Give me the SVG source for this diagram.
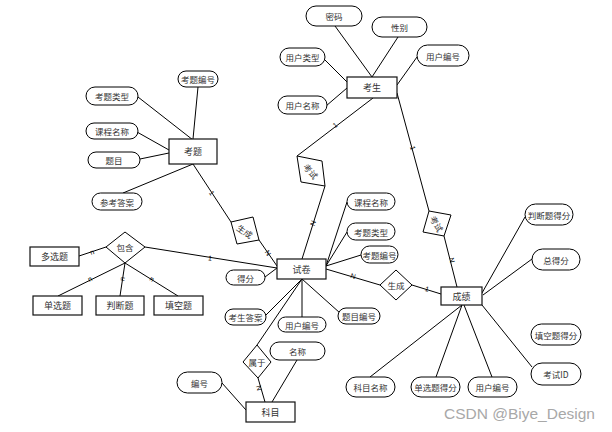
<svg xmlns="http://www.w3.org/2000/svg" width="612" height="432" viewBox="0 0 612 432">
<style>
.ent rect{fill:#fff;stroke:#111;stroke-width:1.2}
.att rect{fill:#fff;stroke:#000;stroke-width:1}
.rel polygon{fill:#fff;stroke:#000;stroke-width:1}
.t{font-family:"Noto Sans CJK SC","Liberation Sans",sans-serif;font-size:8.5px;fill:#333;text-anchor:middle;dominant-baseline:central}
.te{font-size:9px}
#connectors line{stroke:#000;stroke-width:1}
.lb{font-family:"Liberation Sans",sans-serif;font-size:7px;fill:#000;text-anchor:middle;dominant-baseline:central}
.wm{font-family:"Liberation Sans",sans-serif;font-size:15.5px;fill:#a8a8a8}
</style>
<rect width="612" height="432" fill="#fff"/>
<g id="connectors">
<line x1="335" y1="26" x2="372" y2="77"/>
<line x1="398" y1="37" x2="372" y2="77"/>
<line x1="323" y1="58" x2="347" y2="82"/>
<line x1="326" y1="106" x2="347" y2="88"/>
<line x1="417" y1="57" x2="397" y2="85"/>
<line x1="373" y1="98" x2="297" y2="156"/>
<line x1="325" y1="186" x2="302" y2="259"/>
<line x1="397" y1="93" x2="429" y2="211"/>
<line x1="444" y1="236" x2="457" y2="287"/>
<line x1="198" y1="87" x2="193" y2="139"/>
<line x1="138" y1="97" x2="193" y2="140"/>
<line x1="137" y1="132" x2="169" y2="150"/>
<line x1="140" y1="159" x2="169" y2="153"/>
<line x1="123" y1="193" x2="193" y2="164"/>
<line x1="193" y1="164" x2="231" y2="222"/>
<line x1="259" y1="240" x2="277" y2="266"/>
<line x1="145" y1="247" x2="277" y2="268"/>
<line x1="79" y1="256" x2="106" y2="247"/>
<line x1="125" y1="263" x2="58" y2="296"/>
<line x1="125" y1="263" x2="120" y2="296"/>
<line x1="125" y1="263" x2="178" y2="296"/>
<line x1="326" y1="266" x2="347" y2="202"/>
<line x1="326" y1="266" x2="347" y2="232"/>
<line x1="326" y1="266" x2="361" y2="255"/>
<line x1="326" y1="269" x2="380" y2="285"/>
<line x1="412" y1="285" x2="441" y2="294"/>
<line x1="265" y1="277" x2="277" y2="268"/>
<line x1="302" y1="279" x2="266" y2="315"/>
<line x1="302" y1="279" x2="302" y2="317"/>
<line x1="302" y1="279" x2="340" y2="313"/>
<line x1="302" y1="279" x2="257" y2="345"/>
<line x1="258" y1="378" x2="265" y2="402"/>
<line x1="297" y1="360" x2="272" y2="402"/>
<line x1="222" y1="383" x2="246" y2="410"/>
<line x1="482" y1="293" x2="525" y2="217"/>
<line x1="483" y1="295" x2="532" y2="259"/>
<line x1="482" y1="305" x2="532" y2="367"/>
<line x1="462" y1="305" x2="370" y2="377"/>
<line x1="462" y1="305" x2="436" y2="377"/>
<line x1="464" y1="305" x2="492" y2="377"/>
<text class="lb" transform="translate(335,125) rotate(-37)">1</text>
<text class="lb" transform="translate(313,223) rotate(-72)">N</text>
<text class="lb" transform="translate(413,148) rotate(75)">1</text>
<text class="lb" transform="translate(452,260) rotate(76)">N</text>
<text class="lb" transform="translate(212,193) rotate(57)">1</text>
<text class="lb" transform="translate(268,253) rotate(55)">N</text>
<text class="lb" transform="translate(210,258) rotate(9)">1</text>
<text class="lb" transform="translate(92,252) rotate(-18)">n</text>
<text class="lb" transform="translate(90,279) rotate(-26)">n</text>
<text class="lb" transform="translate(122,279) rotate(-81)">n</text>
<text class="lb" transform="translate(152,279) rotate(32)">n</text>
<text class="lb" transform="translate(353,276) rotate(16)">N</text>
<text class="lb" transform="translate(427,289) rotate(17)">1</text>
<text class="lb" transform="translate(259,388) rotate(74)">N</text>
</g>
<g id="e-kaosheng" class="ent"><rect x="347" y="77" width="50" height="21"/><text class="t te" x="372" y="87.5">考生</text></g>
<g id="e-kaoti" class="ent"><rect x="169" y="139" width="48" height="25"/><text class="t te" x="193" y="151.5">考题</text></g>
<g id="e-shijuan" class="ent"><rect x="277" y="259" width="49" height="20"/><text class="t te" x="301.5" y="269">试卷</text></g>
<g id="e-chengji" class="ent"><rect x="441" y="287" width="41" height="18"/><text class="t te" x="461.5" y="296">成绩</text></g>
<g id="e-kemu" class="ent"><rect x="246" y="402" width="49" height="20"/><text class="t te" x="270.5" y="412">科目</text></g>
<g id="e-duoxuan" class="ent"><rect x="30" y="247" width="49" height="19"/><text class="t te" x="54.5" y="256.5">多选题</text></g>
<g id="e-danxuan" class="ent"><rect x="33" y="296" width="49" height="19"/><text class="t te" x="57.5" y="305.5">单选题</text></g>
<g id="e-panduan" class="ent"><rect x="96" y="296" width="48" height="19"/><text class="t te" x="120" y="305.5">判断题</text></g>
<g id="e-tiankong" class="ent"><rect x="154" y="296" width="49" height="19"/><text class="t te" x="178.5" y="305.5">填空题</text></g>
<g id="a-mima" class="att"><rect x="306" y="6" width="56" height="20" rx="10"/><text class="t" x="334" y="16">密码</text></g>
<g id="a-xingbie" class="att"><rect x="372" y="17" width="55" height="20" rx="10"/><text class="t" x="399.5" y="27">性别</text></g>
<g id="a-yonghuleixing" class="att"><rect x="280" y="48" width="45" height="18" rx="9"/><text class="t" x="302.5" y="57">用户类型</text></g>
<g id="a-yonghumingcheng" class="att"><rect x="278" y="96" width="49" height="18" rx="9"/><text class="t" x="302.5" y="105">用户名称</text></g>
<g id="a-yonghubianhao1" class="att"><rect x="417" y="45" width="52" height="21" rx="10.5"/><text class="t" x="443" y="55.5">用户编号</text></g>
<g id="a-kaotibianhao1" class="att"><rect x="178" y="71" width="40" height="16" rx="8"/><text class="t" x="198" y="79">考题编号</text></g>
<g id="a-kaotileixing1" class="att"><rect x="86" y="87" width="52" height="18" rx="9"/><text class="t" x="112" y="96">考题类型</text></g>
<g id="a-kechengmingcheng1" class="att"><rect x="86" y="123" width="52" height="16" rx="8"/><text class="t" x="112" y="131">课程名称</text></g>
<g id="a-timu" class="att"><rect x="88" y="152" width="52" height="16" rx="8"/><text class="t" x="114" y="160">题目</text></g>
<g id="a-cankaodaan" class="att"><rect x="92" y="193" width="50" height="17" rx="8.5"/><text class="t" x="117" y="201.5">参考答案</text></g>
<g id="a-kechengmingcheng2" class="att"><rect x="347" y="193" width="48" height="17" rx="8.5"/><text class="t" x="371" y="201.5">课程名称</text></g>
<g id="a-kaotileixing2" class="att"><rect x="347" y="223" width="48" height="17" rx="8.5"/><text class="t" x="371" y="231.5">考题类型</text></g>
<g id="a-kaotibianhao2" class="att"><rect x="361" y="246" width="37" height="17" rx="8.5"/><text class="t" x="379.5" y="254.5">考题编号</text></g>
<g id="a-defen" class="att"><rect x="226" y="270" width="39" height="15" rx="7.5"/><text class="t" x="245.5" y="277.5">得分</text></g>
<g id="a-kaoshengdaan" class="att"><rect x="225" y="309" width="41" height="16" rx="8"/><text class="t" x="245.5" y="317">考生答案</text></g>
<g id="a-yonghubianhao2" class="att"><rect x="278" y="317" width="48" height="15" rx="7.5"/><text class="t" x="302" y="324.5">用户编号</text></g>
<g id="a-timubianhao" class="att"><rect x="338" y="308" width="42" height="16" rx="8"/><text class="t" x="359" y="316">题目编号</text></g>
<g id="a-mingcheng" class="att"><rect x="270" y="342" width="55" height="18" rx="9"/><text class="t" x="297.5" y="351">名称</text></g>
<g id="a-bianhao" class="att"><rect x="177" y="372" width="45" height="21" rx="10.5"/><text class="t" x="199.5" y="382.5">编号</text></g>
<g id="a-panduandefen" class="att"><rect x="525" y="204" width="48" height="21" rx="10.5"/><text class="t" x="549" y="214.5">判断题得分</text></g>
<g id="a-zongdefen" class="att"><rect x="532" y="249" width="48" height="21" rx="10.5"/><text class="t" x="556" y="259.5">总得分</text></g>
<g id="a-tiankongdefen" class="att"><rect x="531" y="324" width="50" height="21" rx="10.5"/><text class="t" x="556" y="334.5">填空题得分</text></g>
<g id="a-kaoshiid" class="att"><rect x="531" y="363" width="50" height="22" rx="11"/><text class="t" x="556" y="374">考试ID</text></g>
<g id="a-kemumingcheng" class="att"><rect x="346" y="377" width="49" height="20" rx="10"/><text class="t" x="370.5" y="387">科目名称</text></g>
<g id="a-danxuandefen" class="att"><rect x="411" y="377" width="49" height="20" rx="10"/><text class="t" x="435.5" y="387">单选题得分</text></g>
<g id="a-yonghubianhao3" class="att"><rect x="468" y="377" width="49" height="20" rx="10"/><text class="t" x="492.5" y="387">用户编号</text></g>
<g id="r-baohan" class="rel"><polygon points="125,232 145,247 125,263 106,247"/><text class="t" x="125" y="247">包含</text></g>
<g id="r-shengcheng2" class="rel"><polygon points="396,270 412,285 396,300 380,285"/><text class="t" x="396" y="285">生成</text></g>
<g id="r-shuyu" class="rel"><polygon points="257,345 271,362 258,378 243,362"/><text class="t" x="257" y="362">属于</text></g>
<g id="r-kaoshi1" class="rel"><polygon points="297,156 322,161 325,186 301,182"/><text class="t" transform="translate(311,171) rotate(49)">考试</text></g>
<g id="r-shengcheng1" class="rel"><polygon points="231,222 253,217 259,240 237,244"/><text class="t" transform="translate(245,231) rotate(35)">生成</text></g>
<g id="r-kaoshi2" class="rel"><polygon points="429,211 451,215 444,236 423,232"/><text class="t" transform="translate(437,223.5) rotate(60)">考试</text></g>
<text class="wm" x="444" y="419">CSDN @Biye_Design</text>
</svg>
